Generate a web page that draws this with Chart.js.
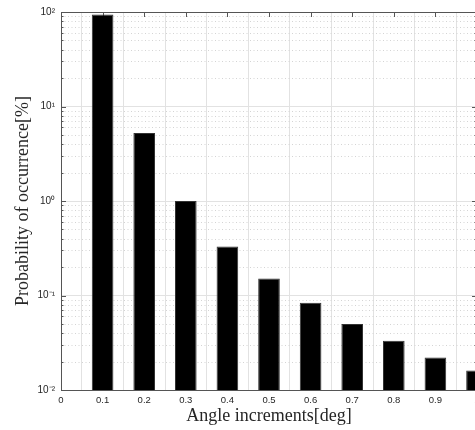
<!DOCTYPE html>
<html><head><meta charset="utf-8">
<script src="https://cdn.jsdelivr.net/npm/chart.js@4/dist/chart.umd.min.js"></script>
<style>html,body{margin:0;padding:0;overflow:hidden;background:#fff}#wrap{width:490px;height:430px}</style>
</head><body><div id="wrap"><canvas id="c" width="490" height="430"></canvas></div>
<script>
const angles = [0.1, 0.2, 0.3, 0.4, 0.5, 0.6, 0.7, 0.8, 0.9, 1.0];
const probabilities = [94, 5.24, 1.0, 0.33, 0.151, 0.0837, 0.0498, 0.0333, 0.0221, 0.0161];
const xTickValues = [0, 0.1, 0.2, 0.3, 0.4, 0.5, 0.6, 0.7, 0.8, 0.9, 1.0];
const xTickLabels = ['0', '0.1', '0.2', '0.3', '0.4', '0.5', '0.6', '0.7', '0.8', '0.9', '1'];
const yTickValues = [0.01, 0.1, 1, 10, 100];
const yTickLabels = ['10\u207B\u00B2', '10\u207B\u00B9', '10\u2070', '10\u00B9', '10\u00B2'];
const yMinorMultipliers = [2, 3, 4, 5, 6, 7, 8, 9];
const xTitle = 'Angle increments[deg]';
const yTitle = 'Probability of occurrence[%]';

const AXIS = '#555555';
const frame = {
  id: 'frame',
  beforeDatasetsDraw(chart) {
    const { ctx, chartArea: a, scales: { x, y } } = chart;
    ctx.save();
    // minor dotted grid
    ctx.strokeStyle = '#d4d4d4'; ctx.lineWidth = 1; ctx.setLineDash([1, 2.5]);
    for (const d of yTickValues.slice(0, -1)) for (const m of yMinorMultipliers) {
      const py = Math.round(y.getPixelForValue(d * m)) + 0.5;
      ctx.beginPath(); ctx.moveTo(a.left, py); ctx.lineTo(a.right, py); ctx.stroke();
    }
    ctx.setLineDash([]);
    ctx.strokeStyle = AXIS;
    // top and right border
    ctx.beginPath();
    ctx.moveTo(a.left, a.top + 0.5); ctx.lineTo(a.right, a.top + 0.5);
    ctx.moveTo(a.right - 0.5, a.top); ctx.lineTo(a.right - 0.5, a.bottom);
    // x ticks (top & bottom, inward)
    for (const v of xTickValues) {
      const px = Math.round(x.getPixelForValue(v)) + 0.5;
      ctx.moveTo(px, a.top); ctx.lineTo(px, a.top + 5);
      ctx.moveTo(px, a.bottom); ctx.lineTo(px, a.bottom - 5);
    }
    // y ticks (left & right, inward)
    for (const v of yTickValues) {
      const py = Math.round(y.getPixelForValue(v)) + 0.5;
      ctx.moveTo(a.left, py); ctx.lineTo(a.left + 5, py);
      ctx.moveTo(a.right, py); ctx.lineTo(a.right - 5, py);
    }
    for (const d of yTickValues.slice(0, -1)) for (const m of yMinorMultipliers) {
      const py = Math.round(y.getPixelForValue(d * m)) + 0.5;
      ctx.moveTo(a.left, py); ctx.lineTo(a.left + 2.5, py);
      ctx.moveTo(a.right, py); ctx.lineTo(a.right - 2.5, py);
    }
    ctx.stroke();
    ctx.restore();
  }
};

new Chart(document.getElementById('c'), {
  type: 'bar',
  data: {
    datasets: [{
      data: angles.map((a, i) => ({ x: a, y: probabilities[i] })),
      backgroundColor: '#000000',
      borderColor: '#333333',
      borderWidth: 1,
      barPercentage: 0.52,
      categoryPercentage: 1
    }]
  },
  options: {
    responsive: false,
    animation: false,
    layout: { padding: { left: 0, right: 13, top: 11, bottom: 0 } },
    plugins: { legend: { display: false }, tooltip: { enabled: false } },
    scales: {
      x: {
        type: 'linear', min: 0, max: 1, offset: false,
        afterBuildTicks: s => { s.ticks = xTickValues.map(v => ({ value: v })); },
        afterFit: s => { s.height = 40; },
        ticks: {
          autoSkip: false, maxRotation: 0, padding: 5, color: '#262626',
          font: { family: 'Liberation Sans', size: 9.5 },
          callback: (v, i) => xTickLabels[i]
        },
        grid: { color: '#e2e2e2', lineWidth: 1, drawTicks: false },
        border: { display: true, color: AXIS, width: 1 },
        title: {
          display: true, text: xTitle, color: '#262626',
          font: { family: 'Liberation Serif', size: 18 },
          padding: { top: 0, bottom: 3 }
        }
      },
      y: {
        type: 'logarithmic', min: 0.01, max: 100,
        afterBuildTicks: s => { s.ticks = yTickValues.map(v => ({ value: v })); },
        afterFit: s => { s.width = 61; },
        ticks: {
          autoSkip: false, padding: 6, color: '#262626',
          font: { family: 'Liberation Sans', size: 10 },
          callback: (v, i) => yTickLabels[i]
        },
        grid: { color: '#e2e2e2', lineWidth: 1, drawTicks: false },
        border: { display: true, color: AXIS, width: 1 },
        title: {
          display: true, text: yTitle, color: '#262626',
          font: { family: 'Liberation Serif', size: 18 },
          padding: { top: 12, bottom: 0 }
        }
      }
    }
  },
  plugins: [frame]
});
</script></body></html>
